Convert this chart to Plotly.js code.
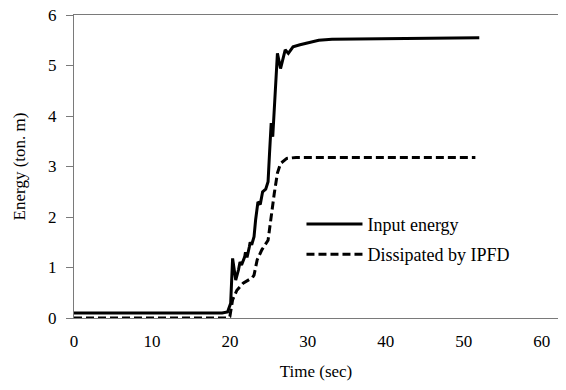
<!DOCTYPE html>
<html>
<head>
<meta charset="utf-8">
<script src="https://cdn.plot.ly/plotly-3.0.1.min.js"></script>
<style>html,body{margin:0;padding:0;background:#fff;}#chart{width:566px;height:390px;}</style>
</head>
<body>
<div id="chart"></div>
<script>
const inputTime = [0, 19.0, 19.7, 20.1, 20.35, 20.75, 21.1, 21.3, 21.5, 21.9, 22.0, 22.2, 22.5, 22.6, 22.8, 23.1, 23.3, 23.6, 23.9, 24.2, 24.6, 24.9, 25.1, 25.3, 25.5, 25.9, 26.1, 26.5, 27.1, 27.5, 28.1, 29.0, 29.8, 31.4, 33.1, 40, 52];
const inputEnergy = [0.1, 0.1, 0.12, 0.29, 1.18, 0.75, 0.95, 1.11, 1.05, 1.21, 1.3, 1.2, 1.41, 1.5, 1.45, 1.61, 1.94, 2.3, 2.25, 2.5, 2.55, 2.7, 3.3, 3.86, 3.59, 4.71, 5.24, 4.94, 5.31, 5.24, 5.37, 5.41, 5.44, 5.5, 5.52, 5.53, 5.55];
const dissTime = [0, 19.6, 20.0, 20.35, 20.9, 21.7, 22.9, 23.1, 23.5, 24.1, 24.9, 25.3, 25.7, 26.1, 26.5, 27.3, 28.5, 51.5];
const dissEnergy = [0, 0, 0.03, 0.36, 0.55, 0.69, 0.8, 0.85, 1.15, 1.35, 1.54, 2.07, 2.47, 2.87, 3.06, 3.16, 3.18, 3.18];
const xTicks = [0, 10, 20, 30, 40, 50, 60];
const yTicks = [0, 1, 2, 3, 4, 5, 6];

const fontFam = 'Liberation Serif, Times New Roman, serif';
const axisCol = '#7a7a7a';

const traces = [
  {x: inputTime, y: inputEnergy, type: 'scatter', mode: 'lines', name: 'Input energy',
   line: {color: '#000', width: 3}, legendgroup: 'a'},
  {x: dissTime, y: dissEnergy, type: 'scatter', mode: 'lines', name: 'Dissipated by IPFD',
   line: {color: '#000', width: 3, dash: '8px,4px'}, legendgroup: 'b'}
];

const layout = {
  width: 566, height: 390,
  margin: {l: 74, r: 8, t: 15, b: 72},
  paper_bgcolor: '#fff', plot_bgcolor: '#fff',
  font: {family: fontFam, size: 17, color: '#000'},
  showlegend: true,
  legend: {x: 0.47, y: 0.26, xanchor: 'left', yanchor: 'middle', bgcolor: 'rgba(0,0,0,0)',
           font: {family: fontFam, size: 18, color: '#000'}, tracegroupgap: 4,
           traceorder: 'grouped', itemwidth: 56},
  xaxis: {range: [0, 62.1], tickvals: xTicks, ticktext: xTicks.map(String),
          showgrid: false, zeroline: false, showline: true, mirror: true,
          linecolor: axisCol, linewidth: 1, ticks: '', ticklabelstandoff: 8,
          title: {text: 'Time (sec)', font: {family: fontFam, size: 17}, standoff: 14}},
  yaxis: {range: [0, 6], tickvals: yTicks, ticktext: yTicks.map(String),
          showgrid: false, zeroline: false, showline: true,
          linecolor: axisCol, linewidth: 1, ticks: 'outside', ticklen: 7, tickcolor: axisCol,
          ticklabelstandoff: 6,
          title: {text: 'Energy (ton. m)', font: {family: fontFam, size: 17}, standoff: 18}}
};

Plotly.newPlot('chart', traces, layout, {displayModeBar: false, staticPlot: true});
</script>
</body>
</html>
